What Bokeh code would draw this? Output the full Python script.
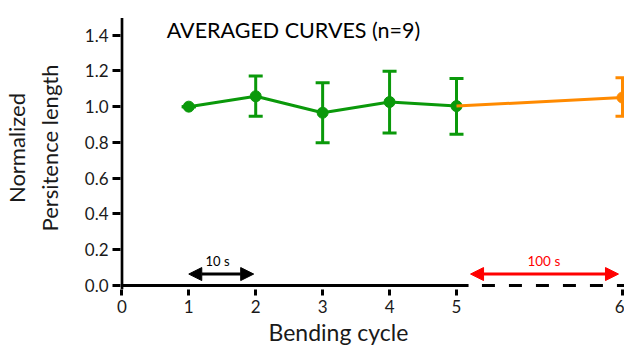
from bokeh.plotting import figure
from bokeh.models import (ColumnDataSource, Whisker, TeeHead, Arrow, NormalHead,
                          Label, FixedTicker, Range1d, Title)
from bokeh.embed import file_html
from bokeh.resources import INLINE

# ---- data ----
cycles = [1, 2, 3, 4, 5, 6]
mean_pl = [1.00, 1.058, 0.966, 1.026, 1.003, 1.051]
upper_pl = [1.00, 1.172, 1.134, 1.198, 1.158, 1.162]
lower_pl = [1.00, 0.946, 0.798, 0.853, 0.845, 0.946]
x_ticks = [0, 1, 2, 3, 4, 5, 6]
y_ticks = [0.0, 0.2, 0.4, 0.6, 0.8, 1.0, 1.2, 1.4]
interval_labels = ["10 s", "100 s"]

# broken axis: interval 5 -> 6 is drawn stretched
BREAK_AT = 5
STRETCH = 2.48


def xpos(c):
    return c if c <= BREAK_AT else BREAK_AT + (c - BREAK_AT) * STRETCH


GREEN = "#0a990a"
ORANGE = "#ff8a00"
RED = "#ff0000"
FONT = "Lato"

xp = [xpos(c) for c in cycles]
x_start = -0.02
x_end = xpos(6) + 0.03
y_start = -0.0224
y_axis_top = 1.495

p = figure(width=624, height=350, output_backend="svg", toolbar_location=None,
           x_range=Range1d(x_start, x_end), y_range=Range1d(y_start, 1.56),
           min_border_left=120, min_border_right=0, min_border_top=6,
           min_border_bottom=61)
p.outline_line_color = None
p.grid.visible = False
p.background_fill_color = "white"

# axes
p.xaxis.ticker = FixedTicker(ticks=[xpos(t) for t in x_ticks])
p.xaxis.major_label_overrides = {xpos(t): str(t) for t in x_ticks}
p.xaxis.axis_line_alpha = 0
p.xaxis.major_tick_in = 0
p.xaxis.major_tick_out = 6
p.xaxis.minor_tick_line_color = None
p.xaxis.major_tick_line_width = 3
p.xaxis.major_tick_line_color = "black"
p.xaxis.major_label_standoff = 4

p.yaxis.ticker = FixedTicker(ticks=y_ticks)
p.yaxis.major_label_overrides = {t: f"{t:.1f}" for t in y_ticks}
p.yaxis.axis_line_alpha = 0
p.yaxis.major_tick_in = 0
p.yaxis.major_tick_out = 8
p.yaxis.major_tick_line_width = 3
p.yaxis.minor_tick_line_color = None
p.yaxis.axis_label = "Normalized\nPersitence length"
p.yaxis.major_label_standoff = 4
p.yaxis.axis_label_standoff = 19

for ax in (p.xaxis, p.yaxis):
    ax.major_label_text_font = FONT
    ax.major_label_text_font_size = "17px"
    ax.major_label_text_color = "#1a1a1a"
    ax.axis_label_text_font = FONT
    ax.axis_label_text_font_style = "normal"
    ax.axis_label_text_color = "#1a1a1a"
p.yaxis.axis_label_text_font_size = "22px"

# x-axis title (placed off-centre as in the original)
p.add_layout(Title(text="Bending cycle", align="left", offset=148, standoff=0,
                   text_font=FONT, text_font_size="23px", text_font_style="normal",
                   text_color="#1a1a1a"), "below")

# y-axis line
p.line([0, 0], [y_start, y_axis_top], line_color="black", line_width=3)

# x-axis line: solid up to the break, dashed after
x_break_a = BREAK_AT + 0.18
x_break_b = BREAK_AT + 0.38
p.line([0, x_break_a], [0, 0], line_color="black", line_width=3)
p.line([x_break_b, x_end], [0, 0], line_color="black", line_width=3,
       line_dash="13 14")

# data
src_g = ColumnDataSource(dict(x=xp[:5], y=mean_pl[:5], up=upper_pl[:5], lo=lower_pl[:5]))
src_o = ColumnDataSource(dict(x=xp[4:], y=mean_pl[4:], up=upper_pl[4:], lo=lower_pl[4:]))
src_o_pt = ColumnDataSource(dict(x=xp[5:], y=mean_pl[5:], up=upper_pl[5:], lo=lower_pl[5:]))

p.line("x", "y", source=src_g, line_color=GREEN, line_width=3)
p.add_layout(Whisker(base="x", upper="up", lower="lo", source=src_g, line_color=GREEN,
                     line_width=3,
                     upper_head=TeeHead(size=14, line_color=GREEN, line_width=3),
                     lower_head=TeeHead(size=14, line_color=GREEN, line_width=3)))
p.scatter("x", "y", source=src_g, size=11, fill_color=GREEN, line_color=GREEN)

p.line("x", "y", source=src_o, line_color=ORANGE, line_width=3)
p.add_layout(Whisker(base="x", upper="up", lower="lo", source=src_o_pt, line_color=ORANGE,
                     line_width=3,
                     upper_head=TeeHead(size=14, line_color=ORANGE, line_width=3),
                     lower_head=TeeHead(size=14, line_color=ORANGE, line_width=3)))
p.scatter("x", "y", source=src_o_pt, size=11, fill_color=ORANGE, line_color=ORANGE)

# interval arrows
ya = 0.064


def head(c):
    return NormalHead(size=13, fill_color=c, line_color=c, line_width=1)


p.add_layout(Arrow(x_start=xpos(1), y_start=ya, x_end=xpos(2) - 0.03, y_end=ya,
                   line_color="black", line_width=3, start=head("black"), end=head("black")))
p.add_layout(Label(x=(xpos(1) + xpos(2)) / 2 - 0.07, y=ya + 0.075, text=interval_labels[0],
                   text_align="center", text_baseline="alphabetic",
                   text_font=FONT, text_font_size="13px", text_color="black"))

p.add_layout(Arrow(x_start=BREAK_AT + 0.21, y_start=ya, x_end=xpos(6) - 0.06, y_end=ya,
                   line_color=RED, line_width=3, start=head(RED), end=head(RED)))
p.add_layout(Label(x=(BREAK_AT + 0.21 + xpos(6)) / 2 - 0.04, y=ya + 0.075, text=interval_labels[1],
                   text_align="center", text_baseline="alphabetic",
                   text_font=FONT, text_font_size="13.5px", text_color=RED))

# title inside the plot
p.add_layout(Label(x=0.67, y=1.428, text="AVERAGED CURVES (n=9)",
                   text_align="left", text_baseline="alphabetic",
                   text_font=FONT, text_font_size="21.5px", text_color="black"))

open("out.html", "w").write(file_html(p, INLINE))
